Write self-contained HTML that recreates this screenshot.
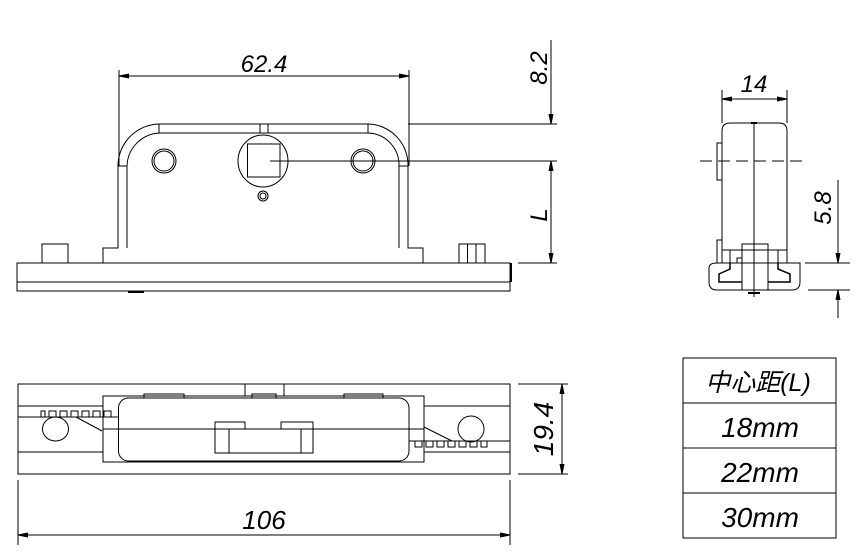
<!DOCTYPE html>
<html><head><style>body{margin:0;background:#fff}svg{display:block}text{font-family:"Liberation Sans","Noto Sans CJK SC",sans-serif;font-style:italic}</style></head><body>
<svg width="858" height="554" viewBox="0 0 858 554" fill="none" stroke="#000" stroke-width="1">
<defs><marker id="a" markerWidth="10" markerHeight="6" refX="10" refY="3" orient="auto-start-reverse" markerUnits="userSpaceOnUse"><path d="M0,1 L10,3 L0,5z" fill="#000"/></marker></defs>
<rect x="17" y="263" width="493" height="28"/><line x1="17" y1="282" x2="510" y2="282"/><line x1="511" y1="263" x2="511" y2="282" stroke-width="2"/>
<line x1="128" y1="292" x2="144" y2="292" stroke-width="2"/>
<rect x="42" y="244" width="26" height="19"/>
<rect x="459" y="244" width="26" height="19"/><line x1="467.5" y1="244" x2="467.5" y2="263"/><line x1="476" y1="244" x2="476" y2="263"/>
<path d="M103 263 V248 H118 V166 A42 42 0 0 1 160 124 H368 A41 41 0 0 1 408 166 V248 H423 V263"/>
<path d="M127 248 V166 A34 34 0 0 1 160 133 H368 A32 32 0 0 1 399 166 V248"/>
<line x1="118" y1="166" x2="127" y2="166"/><line x1="399" y1="166" x2="408" y2="166"/>
<line x1="159" y1="124" x2="159" y2="133"/><line x1="368" y1="124" x2="368" y2="133"/>
<rect x="260" y="124" width="8" height="9"/>
<ellipse cx="263" cy="161" rx="25" ry="26"/><rect x="247.5" y="144" width="32.5" height="33"/>
<circle cx="263" cy="196" r="5"/><circle cx="263" cy="196" r="3"/>
<circle cx="164" cy="161" r="12"/><circle cx="164" cy="161" r="10"/>
<circle cx="363" cy="161" r="12"/><circle cx="363" cy="161" r="10"/>
<line x1="270" y1="161" x2="557" y2="161"/><line x1="408" y1="124" x2="557" y2="124"/><line x1="518" y1="263" x2="557" y2="263"/>
<line x1="119" y1="70" x2="119" y2="166"/><line x1="409" y1="70" x2="409" y2="166"/>
<line x1="119" y1="76" x2="409" y2="76" marker-start="url(#a)" marker-end="url(#a)"/>
<line x1="551" y1="40" x2="551" y2="124" marker-end="url(#a)"/>
<line x1="551" y1="161" x2="551" y2="263" marker-start="url(#a)" marker-end="url(#a)"/>
<g fill="#000" stroke="none" font-size="24">
<text x="264" y="72" text-anchor="middle">62.4</text>
<text transform="translate(547,68) rotate(-90)" text-anchor="middle">8.2</text>
<text transform="translate(547,215) rotate(-90)" text-anchor="middle">L</text>
<text x="754" y="92" text-anchor="middle">14</text>
<text transform="translate(831,208) rotate(-90)" text-anchor="middle">5.8</text>
<text transform="translate(553,429) rotate(-90)" text-anchor="middle" font-size="28">19.4</text>
<text x="264" y="529" text-anchor="middle" font-size="26">106</text>
</g>
<path d="M730 123 H779 Q787 123 787 131 V263 M722 263 V131 Q722 123 730 123"/>
<rect x="717" y="143" width="5" height="37"/><rect x="717" y="240" width="5" height="23"/>
<line x1="754" y1="123" x2="754" y2="297"/><line x1="751" y1="123" x2="757" y2="123" stroke-width="2"/><line x1="748" y1="293" x2="760" y2="293" stroke-width="2"/>
<line x1="700" y1="161" x2="808" y2="161" stroke-dasharray="12,6"/>
<path d="M717 263 H800 V282 Q800 290 792 290 H717 Q709 290 709 282 V268 Q709 263 717 263Z"/>
<rect x="742" y="244" width="26" height="46"/>
<line x1="730" y1="250" x2="730" y2="263"/><line x1="778" y1="250" x2="778" y2="263"/><line x1="722" y1="250" x2="787" y2="250"/>
<path d="M737 263 V258 H742" />
<path d="M730 263 V269 L719 274 V282 H742 M778 263 V269 L790 274 V282 H768" stroke-width="1.5"/>
<line x1="722" y1="99" x2="787" y2="99" marker-start="url(#a)" marker-end="url(#a)"/>
<line x1="722" y1="90" x2="722" y2="123"/><line x1="787" y1="90" x2="787" y2="123"/>
<line x1="805" y1="263" x2="850" y2="263"/><line x1="808" y1="290" x2="850" y2="290"/>
<line x1="838" y1="180" x2="838" y2="263" marker-end="url(#a)"/><line x1="838" y1="318" x2="838" y2="290" marker-end="url(#a)"/>
<rect x="18" y="384" width="492" height="90"/>
<line x1="18" y1="406" x2="103" y2="406"/><line x1="18" y1="417" x2="118" y2="417"/><line x1="18" y1="452" x2="103" y2="452"/>
<line x1="424" y1="406" x2="510" y2="406"/><line x1="409" y1="441" x2="510" y2="441"/><line x1="424" y1="452" x2="510" y2="452"/>
<line x1="103" y1="429" x2="424" y2="429"/>
<rect x="103" y="396" width="321" height="66"/>
<rect x="118.5" y="398" width="290.5" height="63" rx="10" fill="#fff"/>
<line x1="118.5" y1="429" x2="409" y2="429"/>
<rect x="144" y="394" width="40" height="4"/><rect x="252" y="394" width="24" height="4"/><rect x="344" y="394" width="39" height="4"/>
<line x1="245" y1="384" x2="245" y2="396"/><line x1="284" y1="384" x2="284" y2="396"/>
<rect x="215" y="422" width="30" height="7"/><rect x="281" y="422" width="32" height="7"/>
<rect x="215" y="429" width="98" height="24"/><line x1="229" y1="429" x2="229" y2="453"/><line x1="301" y1="429" x2="301" y2="453"/>
<path d="M41 417 V411 H45 V417 M49 417 V411 H56 V417 M60 417 V411 H67 V417 M71 417 V411 H78 V417 M82 417 V411 H89 V417 M93 417 V411 H100 V417 M104 417 V411 H111 V417"/>
<path d="M415 441 V447 H422 V441 M426 441 V447 H433 V441 M437 441 V447 H444 V441 M448 441 V447 H455 V441 M459 441 V447 H466 V441 M470 441 V447 H477 V441 M481 441 V447 H487 V441"/>
<ellipse cx="55.5" cy="429" rx="13" ry="12"/><ellipse cx="471" cy="429" rx="13" ry="13"/>
<line x1="76" y1="417" x2="102" y2="431"/><line x1="424" y1="427" x2="452" y2="441"/>
<line x1="518" y1="384" x2="568" y2="384"/><line x1="518" y1="474" x2="568" y2="474"/>
<line x1="562" y1="384" x2="562" y2="474" marker-start="url(#a)" marker-end="url(#a)"/>
<line x1="18" y1="480" x2="18" y2="545"/><line x1="510" y1="480" x2="510" y2="545"/>
<line x1="18" y1="535" x2="510" y2="535" marker-start="url(#a)" marker-end="url(#a)"/>
<rect x="683" y="358" width="153" height="180"/>
<line x1="683" y1="403" x2="836" y2="403"/><line x1="683" y1="448" x2="836" y2="448"/><line x1="683" y1="493" x2="836" y2="493"/>
<g fill="#000" stroke="none" text-anchor="middle">
<text x="758" y="391" font-size="25">中心距(L)</text>
<text x="760" y="437" font-size="28">18mm</text>
<text x="760" y="482" font-size="28">22mm</text>
<text x="760" y="527" font-size="28">30mm</text>
</g>
</svg>
</body></html>
